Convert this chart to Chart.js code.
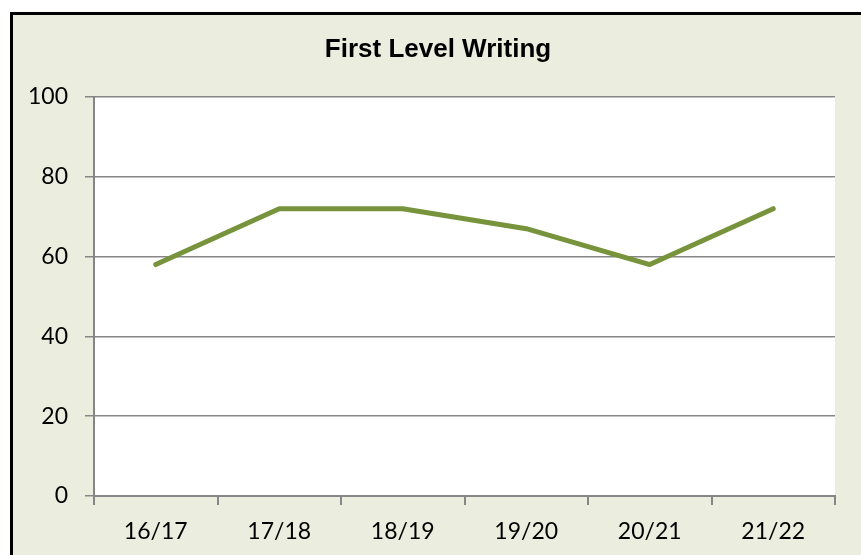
<!DOCTYPE html>
<html>
<head>
<meta charset="utf-8">
<script src="https://cdn.jsdelivr.net/npm/chart.js@4"></script>
<style>
  html, body { margin: 0; padding: 0; background: #fff; overflow: hidden; }
  #frame {
    position: absolute; left: 10px; top: 12px; width: 900px; height: 600px;
    border: 3px solid #000; background: #EBEEDE;
  }
  #wrap { position: absolute; left: 0; top: 0; width: 861px; height: 555px; }
</style>
</head>
<body>
<div id="frame"></div>
<div id="wrap"><canvas id="chart"></canvas></div>
<script>
// chart data
const years = ['16/17', '17/18', '18/19', '19/20', '20/21', '21/22'];
const writing = [58, 72, 72, 67, 58, 72];
const yTicks = [0, 20, 40, 60, 80, 100];

const chartTitle = 'First Level Writing';
const tickFont = { family: 'Lato', size: 23 };

// white plot area + title drawn at fixed spot
const plotBg = {
    id: 'plotBg',
    beforeDraw(chart) {
        const { ctx, chartArea: a } = chart;
        ctx.save();
        ctx.fillStyle = '#fff';
        ctx.fillRect(a.left, a.top, a.right - a.left, a.bottom - a.top);
        ctx.restore();
    },
    afterDraw(chart) {
        const ctx = chart.ctx;
        ctx.save();
        ctx.font = 'bold 26px "Liberation Sans"';
        ctx.fillStyle = '#000';
        ctx.textAlign = 'center';
        ctx.textBaseline = 'alphabetic';
        ctx.fillText(chartTitle, 438, 57);
        ctx.restore();
    }
};

new Chart(document.getElementById('chart').getContext('2d'), {
    type: 'line',
    data: {
        labels: years,
        datasets: [{
            label: chartTitle,
            data: writing,
            borderColor: '#77933C',
            borderWidth: 5,
            borderCapStyle: 'round',
            borderJoinStyle: 'round',
            tension: 0,
            pointRadius: 0,
            fill: false
        }]
    },
    options: {
        responsive: true,
        maintainAspectRatio: false,
        animation: false,
        layout: { padding: { top: 97, right: 26, left: 0, bottom: 0 } },
        plugins: { legend: { display: false }, tooltip: { enabled: false } },
        scales: {
            x: {
                offset: true,
                afterFit: s => { s.height = 59; },
                grid: { display: true, drawOnChartArea: false, offset: true, color: '#868686', tickLength: 9, lineWidth: 2 },
                border: { color: '#868686', width: 2 },
                ticks: { color: '#000', font: tickFont, padding: 13 }
            },
            y: {
                min: 0, max: 100,
                afterFit: s => { s.width = 94; },
                afterBuildTicks: s => { s.ticks = yTicks.map(v => ({ value: v })); },
                grid: { color: '#868686', tickLength: 9, lineWidth: 1.5 },
                border: { color: '#868686', width: 2 },
                ticks: { color: '#000', font: tickFont, padding: 17 }
            }
        }
    },
    plugins: [plotBg]
});
</script>
</body>
</html>
